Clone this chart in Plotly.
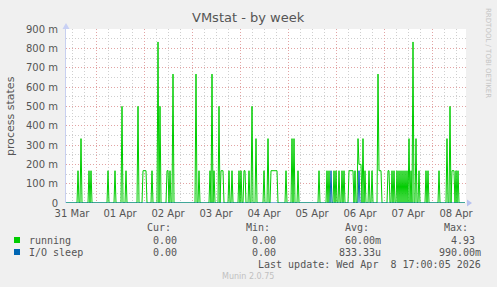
import plotly.graph_objects as go
import pandas as pd

# ---------------- data ----------------
title = "VMstat - by week"
y_title = "process states"
start = "2026-03-31 09:00"
end = "2026-04-08 17:00"
n_points = 400          # 30-minute steps

# non-zero 30-min averages (index of step, value); all other steps are 0
running_idx = [12, 15, 23, 25, 42, 49, 56, 60, 72, 77, 78, 79, 80, 86, 92, 94, 101, 102, 104, 107,
               130, 133, 144, 146, 148, 153, 155, 156, 157, 163, 166, 173, 175, 178, 179, 183, 186, 190,
               198, 202, 205, 206, 207, 208, 209, 210, 211, 220, 226, 228, 232, 253, 261, 263, 268, 270,
               273, 276, 278, 283, 284, 285, 286, 287, 289, 292, 293, 294, 295, 297, 299, 303, 306,
               312, 313, 314, 315, 322, 323, 326, 328, 331, 333, 335, 337, 339, 341, 343, 345, 347,
               350, 353, 360, 362, 373, 381, 384, 386, 387, 388, 390, 392]
running_val = [0.167, 0.333, 0.167, 0.167, 0.167, 0.167, 0.5, 0.167, 0.5, 0.167, 0.167, 0.167, 0.167, 0.167, 0.833, 0.5, 0.167, 0.167, 0.167, 0.667,
               0.667, 0.167, 0.167, 0.667, 0.167, 0.5, 0.167, 0.167, 0.167, 0.167, 0.167, 0.167, 0.167, 0.167, 0.167, 0.167, 0.5, 0.333,
               0.167, 0.333, 0.167, 0.167, 0.167, 0.167, 0.167, 0.167, 0.167, 0.167, 0.333, 0.333, 0.167, 0.167, 0.167, 0.167, 0.167, 0.167,
               0.167, 0.167, 0.167, 0.167, 0.167, 0.167, 0.167, 0.167, 0.167, 0.333, 0.2, 0.2, 0.2, 0.333, 0.167, 0.167, 0.167,
               0.667, 0.167, 0.167, 0.167, 0.167, 0.167, 0.167, 0.167, 0.167, 0.167, 0.167, 0.167, 0.167, 0.167, 0.333, 0.167, 0.833,
               0.333, 0.167, 0.167, 0.167, 0.167, 0.333, 0.5, 0.167, 0.167, 0.167, 0.167, 0.167]
iosleep_idx = [265, 293]
iosleep_val = [0.167, 0.167]

y_tickvals = [0, 0.1, 0.2, 0.3, 0.4, 0.5, 0.6, 0.7, 0.8, 0.9]
y_ticktext = ["0", "100 m", "200 m", "300 m", "400 m", "500 m", "600 m", "700 m", "800 m", "900 m"]

legend_names = ["running", "I/O sleep"]
legend_colors = ["#00CC00", "#0066B3"]
col_headers = ["Cur:", "Min:", "Avg:", "Max:"]
cur_vals = ["0.00", "0.00"]
min_vals = ["0.00", "0.00"]
avg_vals = ["60.00m", "833.33u"]
max_vals = ["4.93", "990.00m"]
last_update = "Last update: Wed Apr\u00a0\u00a08 17:00:05 2026"
footer = "Munin 2.0.75"
side_text = "RRDTOOL / TOBI OETIKER"

# ---------------- build ----------------
times = pd.date_range(start, periods=n_points, freq="30min")
running = [0.0] * n_points
for i, v in zip(running_idx, running_val):
    running[i] = v
iosleep = [0.0] * n_points
for i, v in zip(iosleep_idx, iosleep_val):
    iosleep[i] = v

W, H = 497, 287
PL, PR, PT, PB = 66, 466, 29, 203


def px(x):
    return (x - PL) / (PR - PL)


def py(y):
    return (PB - y) / (PB - PT)


fig = go.Figure()
fig.add_trace(go.Scatter(x=times, y=running, mode="lines",
                         line=dict(color=legend_colors[0], width=1), showlegend=False))
fig.add_trace(go.Scatter(x=times, y=iosleep, mode="lines",
                         line=dict(color=legend_colors[1], width=1), showlegend=False))

TXT = "#555555"
mono = "DejaVu Sans Mono"
sans = "DejaVu Sans"

ann = []
ann.append(dict(text=title, x=px(248), y=py(18), font=dict(family=sans, size=13, color=TXT)))
ann.append(dict(text=y_title, x=px(10), y=py(116), textangle=-90, font=dict(family=sans, size=11, color=TXT)))
ann.append(dict(text=side_text, x=px(488), y=py(53), textangle=90, font=dict(family=sans, size=7, color="#c4c4c4")))

header_right = [173, 272, 371, 470]
for h, xr in zip(col_headers, header_right):
    ann.append(dict(text=h, x=px(xr), y=py(227), xanchor="right", font=dict(family=mono, size=10, color=TXT)))

col_right = [185, 284, 383, 483]
row_y = [240, 252]
for r in range(2):
    ann.append(dict(text=legend_names[r], x=px(27), y=py(row_y[r]), xanchor="left",
                    font=dict(family=mono, size=10, color=TXT)))
    for vals, xr in zip([cur_vals, min_vals, avg_vals, max_vals], col_right):
        t = vals[r]
        if t[-1].isdigit():
            t = t + "\u00a0"
        ann.append(dict(text=t, x=px(xr), y=py(row_y[r]), xanchor="right",
                        font=dict(family=mono, size=10, color=TXT)))

ann.append(dict(text=last_update, x=px(483), y=py(264), xanchor="right", font=dict(family=mono, size=10, color=TXT)))
ann.append(dict(text=footer, x=px(248), y=py(276), font=dict(family=sans, size=8, color="#c0c0c0")))

for a in ann:
    a.update(xref="paper", yref="paper", showarrow=False)
    a.setdefault("xanchor", "center")
    a.setdefault("yanchor", "middle")

shapes = []
for r in range(2):
    shapes.append(dict(type="rect", xref="paper", yref="paper",
                       x0=px(14), x1=px(20), y0=py(row_y[r] + 3), y1=py(row_y[r] - 3),
                       fillcolor=legend_colors[r], line=dict(width=0)))


def tri(pts):
    return "M " + " L ".join(f"{px(a)},{py(b)}" for a, b in pts) + " Z"


shapes.append(dict(type="path", xref="paper", yref="paper",
                   path=tri([(467, 199.5), (472, 203), (467, 206.5)]),
                   fillcolor="#b8c2f0", line=dict(width=0)))
shapes.append(dict(type="path", xref="paper", yref="paper",
                   path=tri([(62.5, 29), (66, 23), (69.5, 29)]),
                   fillcolor="#c8d0f4", line=dict(width=0)))

MAJ = "#e2a4a4"
MIN = "#cfcfcf"
DASH = "1px,2px"

fig.update_layout(
    width=W, height=H, autosize=False,
    margin=dict(l=PL, r=W - PR, t=PT, b=H - PB, pad=0),
    paper_bgcolor="#F0F0F0", plot_bgcolor="#FFFFFF",
    annotations=ann, shapes=shapes,
    xaxis=dict(type="date", range=[start, end], tick0="2026-03-31", dtick=86400000,
               tickformat="%d %b", ticklabelmode="period", ticks="",
               showgrid=True, gridcolor=MAJ, griddash=DASH, gridwidth=1,
               minor=dict(dtick=21600000, showgrid=True, gridcolor=MIN, griddash=DASH, gridwidth=1),
               showline=False, zeroline=False, fixedrange=True,
               tickfont=dict(family=sans, size=10, color=TXT), ticklabelstandoff=3),
    yaxis=dict(range=[0, 0.9], tickvals=y_tickvals, ticktext=y_ticktext, ticks="",
               showgrid=True, gridcolor=MAJ, griddash=DASH, gridwidth=1,
               minor=dict(dtick=0.05, showgrid=True, gridcolor=MIN, griddash=DASH, gridwidth=1),
               showline=True, linecolor="#c8d0f0", linewidth=1, zeroline=False, fixedrange=True,
               tickfont=dict(family=sans, size=10, color=TXT), ticklabelstandoff=5),
)

fig.write_html("out.html")
